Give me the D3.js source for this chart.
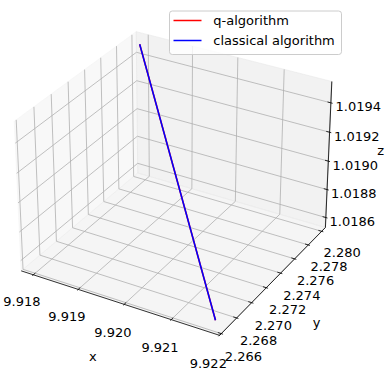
<!DOCTYPE html>
<html><head><meta charset="utf-8">
<script src="https://cdn.jsdelivr.net/npm/d3@7"></script>
<style>body{margin:0;background:#fff} svg{display:block} text{font-family:"DejaVu Sans",sans-serif;}</style>
</head><body>
<svg id="c" width="387" height="374"></svg>
<script>
// ---- data ----
const seriesNames = ["q-algorithm", "classical algorithm"];
const seriesColors = ["#ff0000", "#0000ff"];
const qX = [9.91792, 9.92181];
const qY = [2.279894, 2.266456];
const qZ = [1.019497, 1.018574];
const cX = [9.91792, 9.92181];
const cY = [2.279894, 2.266456];
const cZ = [1.019497, 1.018574];
const xTicks = [9.918, 9.919, 9.920, 9.921, 9.922];
const yTicks = [2.266, 2.268, 2.270, 2.272, 2.274, 2.276, 2.278, 2.280];
const zTicks = [1.0186, 1.0188, 1.0190, 1.0192, 1.0194];
const xTickLabels = ["9.918", "9.919", "9.920", "9.921", "9.922"];
const yTickLabels = ["2.266", "2.268", "2.270", "2.272", "2.274", "2.276", "2.278", "2.280"];
const zTickLabels = ["1.0186", "1.0188", "1.0190", "1.0192", "1.0194"];

// ---- limits (autoscale with 5% margins) ----
function lim(arr){ const e = d3.extent(arr); const r = e[1]-e[0]; return [e[0]-0.05*r, e[1]+0.05*r]; }
const xLim = lim([...qX, ...cX]);
const yLim = lim([...qY, ...cY]);
const zLim = lim([...qZ, ...cZ]);

// ---- 3D projection (elev 30, azim -60, perspective) ----
const box = [8/7, 8/7, 6/7];
const sx = d3.scaleLinear().domain(xLim).range([0, box[0]]);
const sy = d3.scaleLinear().domain(yLim).range([0, box[1]]);
const sz = d3.scaleLinear().domain(zLim).range([0, box[2]]);
const elev = 30*Math.PI/180, azim = -60*Math.PI/180, dist = 10;
const R = box.map(b => b/2);
const ps = [Math.cos(elev)*Math.cos(azim), Math.cos(elev)*Math.sin(azim), Math.sin(elev)];
const E = R.map((r,i) => r + dist*ps[i]);
const dot = (a,b) => a[0]*b[0]+a[1]*b[1]+a[2]*b[2];
const cross = (a,b) => [a[1]*b[2]-a[2]*b[1], a[2]*b[0]-a[0]*b[2], a[0]*b[1]-a[1]*b[0]];
const W = ps;
let U = cross([0,0,1], W); const nu = Math.hypot(...U); U = U.map(d => d/nu);
const V = cross(W, U);
const S = 1990, CX = 176, CY = 176.5;
function P(x, y, z){
  const p = [sx(x)-E[0], sy(y)-E[1], sz(z)-E[2]];
  const depth = -dot(W, p);
  return [CX + S*dot(U,p)/depth, CY - S*dot(V,p)/depth];
}

const svg = d3.select("#c");
const line = d3.line();
const [x0, x1] = xLim, [y0, y1] = yLim, [z0, z1] = zLim;
const xr = x1-x0, yr = y1-y0, zr = z1-z0;

// panes
const panes = [
  {pts: [[x0,y0,z0],[x0,y1,z0],[x0,y1,z1],[x0,y0,z1]], c: "rgb(242,242,242)"},
  {pts: [[x0,y1,z0],[x1,y1,z0],[x1,y1,z1],[x0,y1,z1]], c: "rgb(230,230,230)"},
  {pts: [[x0,y0,z0],[x1,y0,z0],[x1,y1,z0],[x0,y1,z0]], c: "rgb(236,236,236)"}
];
svg.append("g").selectAll("path").data(panes).join("path")
  .attr("d", d => line(d.pts.map(p => P(...p))) + "Z")
  .attr("fill", d => d.c).attr("fill-opacity", 0.5)
  .attr("stroke", d => d.c).attr("stroke-opacity", 0.5).attr("stroke-width", 1);

// grid
const grid = svg.append("g").attr("fill", "none").attr("stroke", "#b0b0b0").attr("stroke-width", 0.8);
xTicks.forEach(t => grid.append("path").attr("d", line([P(t,y0,z0), P(t,y1,z0), P(t,y1,z1)])));
yTicks.forEach(t => grid.append("path").attr("d", line([P(x1,t,z0), P(x0,t,z0), P(x0,t,z1)])));
zTicks.forEach(t => grid.append("path").attr("d", line([P(x0,y0,t), P(x0,y1,t), P(x1,y1,t)])));

// axis lines
const ax = svg.append("g").attr("fill", "none").attr("stroke", "#000").attr("stroke-width", 0.8);
ax.append("path").attr("d", line([P(x0,y0,z0), P(x1,y0,z0)]));
ax.append("path").attr("d", line([P(x1,y0,z0), P(x1,y1,z0)]));
ax.append("path").attr("d", line([P(x1,y1,z0), P(x1,y1,z1)]));

// ticks
const dxo = 0.1*xr/12, dxi = 0.2*xr/12, dyo = 0.1*yr/12, dyi = 0.2*yr/12;
xTicks.forEach(t => ax.append("path").attr("d", line([P(t,y0-dyo,z0), P(t,y0+dyi,z0)])));
yTicks.forEach(t => ax.append("path").attr("d", line([P(x1+dxo,t,z0), P(x1-dxi,t,z0)])));
zTicks.forEach(t => ax.append("path").attr("d", line([P(x1+dxo,y1,t), P(x1-dxi,y1,t)])));

// tick labels
const lab = svg.append("g").attr("font-size", 13).attr("fill", "#000")
  .attr("text-anchor", "middle").attr("dominant-baseline", "central");
const a = 0.107;
xTicks.forEach((t,i) => { const p = P(t, y0 - a*yr, z0 - a*zr); lab.append("text").attr("x", p[0]+1.5).attr("y", p[1]).text(xTickLabels[i]); });
yTicks.forEach((t,i) => { const p = P(x1 + a*xr, t, z0 - a*zr); lab.append("text").attr("x", p[0]).attr("y", p[1]).text(yTickLabels[i]); });
zTicks.forEach((t,i) => { const p = P(x1 + 0.12*xr, y1 + 0.028*yr, t); lab.append("text").attr("x", p[0]).attr("y", p[1]).text(zTickLabels[i]); });

// axis labels
const xm = P((x0+x1)/2, y0 - 0.21*yr, z0 - 0.21*zr);
lab.append("text").attr("x", xm[0]).attr("y", xm[1]).text("x");
const ym = P(x1 + 0.21*xr, (y0+y1)/2, z0 - 0.21*zr);
lab.append("text").attr("x", ym[0]).attr("y", ym[1]).text("y");
const zm = P(x1 + 0.181*xr, y1 + 0.161*yr, (z0+z1)/2);
lab.append("text").attr("x", zm[0]).attr("y", zm[1]).text("z");

// data lines
const series = [
  {x: qX, y: qY, z: qZ, c: seriesColors[0]},
  {x: cX, y: cY, z: cZ, c: seriesColors[1]}
];
svg.append("g").selectAll("path").data(series).join("path")
  .attr("d", s => line(s.x.map((xv,i) => P(xv, s.y[i], s.z[i]))))
  .attr("fill", "none").attr("stroke", s => s.c).attr("stroke-width", 1.5);

// legend
const lg = svg.append("g");
lg.append("rect").attr("x", 169.5).attr("y", 11).attr("width", 172).attr("height", 43.5)
  .attr("rx", 2.8).attr("fill", "#fff").attr("fill-opacity", 0.8).attr("stroke", "#cccccc").attr("stroke-width", 1);
seriesNames.forEach((n,i) => {
  const yy = 20.5 + i*20;
  lg.append("line").attr("x1", 173.5).attr("x2", 201.5).attr("y1", yy).attr("y2", yy)
    .attr("stroke", seriesColors[i]).attr("stroke-width", 1.5);
  lg.append("text").attr("x", 213.3).attr("y", yy).attr("font-size", 13)
    .attr("dominant-baseline", "central").text(n);
});
</script>
</body></html>
